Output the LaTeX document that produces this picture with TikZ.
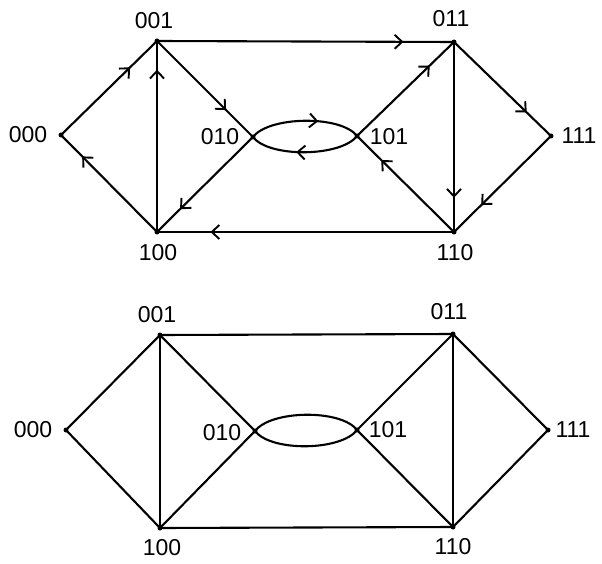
\documentclass[tikz,border=0pt]{standalone}
\usepackage{fontspec}
\setmainfont{Liberation Sans}
\usetikzlibrary{arrows.meta,decorations.markings}
\begin{document}
\begin{tikzpicture}[x=1pt,y=-1pt,line width=2.1pt,
  vtx/.style={circle,fill=black,inner sep=0pt,minimum size=5pt},
  lbl/.style={inner sep=0pt,font=\fontsize{23}{23}\selectfont},
  arr/.style={postaction={decorate,decoration={markings,
     mark=at position #1 with {\arrow[line width=1.9pt]{Straight Barb[length=7.5pt,width=14pt]}}}}}]
\useasboundingbox (0,0) rectangle (602,564);
% ---------- top (directed) ----------
\node[vtx] (a000) at (61,135) {};
\node[vtx] (a001) at (157,41) {};
\node[vtx] (a010) at (253,137) {};
\node[vtx] (a101) at (357,136) {};
\node[vtx] (a011) at (454,42) {};
\node[vtx] (a111) at (551,136) {};
\node[vtx] (a100) at (157,232) {};
\node[vtx] (a110) at (454,232) {};
\node[lbl] (la000) at (28,135) {000};
\node[lbl] (la001) at (154,21) {001};
\node[lbl] (la010) at (220,137) {010};
\node[lbl] (la100) at (158,253) {100};
\node[lbl] (la011) at (451,19) {011};
\node[lbl] (la101) at (389,137) {101};
\node[lbl] (la111) at (579,136) {111};
\node[lbl] (la110) at (455,253) {110};
\draw[arr=0.72] (a000.center) -- (a001.center);
\draw[arr=0.72] (a001.center) -- (a010.center);
\draw[arr=0.85] (a100.center) -- (a001.center);
\draw[arr=0.78] (a100.center) -- (a000.center);
\draw[arr=0.76] (a010.center) -- (a100.center);
\draw[arr=0.82] (a110.center) -- (a100.center);
\draw[arr=0.83] (a001.center) -- (a011.center);
\draw[arr=0.75] (a101.center) -- (a011.center);
\draw[arr=0.75] (a011.center) -- (a111.center);
\draw[arr=0.82] (a011.center) -- (a110.center);
\draw[arr=0.72] (a111.center) -- (a110.center);
\draw[arr=0.75] (a110.center) -- (a101.center);
\draw[arr=0.62] (a010.center) .. controls +(16,-21) and +(-16,-21) .. (a101.center);
\draw[arr=0.58] (a101.center) .. controls +(-16,21) and +(16,21) .. (a010.center);
% ---------- bottom (undirected) ----------
\node[vtx] (b000) at (66,430) {};
\node[vtx] (b001) at (160,335) {};
\node[vtx] (b010) at (255,431) {};
\node[vtx] (b101) at (357,430) {};
\node[vtx] (b011) at (453,334) {};
\node[vtx] (b111) at (548,430) {};
\node[vtx] (b100) at (160,528) {};
\node[vtx] (b110) at (453,527) {};
\node[lbl] (lb000) at (33,430) {000};
\node[lbl] (lb001) at (157,315) {001};
\node[lbl] (lb010) at (222,433) {010};
\node[lbl] (lb100) at (162,548) {100};
\node[lbl] (lb011) at (449,312) {011};
\node[lbl] (lb101) at (388,430) {101};
\node[lbl] (lb111) at (573,430) {111};
\node[lbl] (lb110) at (453,547) {110};
\draw (b000.center) -- (b001.center);
\draw (b001.center) -- (b010.center);
\draw (b100.center) -- (b001.center);
\draw (b100.center) -- (b000.center);
\draw (b010.center) -- (b100.center);
\draw (b110.center) -- (b100.center);
\draw (b001.center) -- (b011.center);
\draw (b101.center) -- (b011.center);
\draw (b011.center) -- (b111.center);
\draw (b011.center) -- (b110.center);
\draw (b111.center) -- (b110.center);
\draw (b110.center) -- (b101.center);
\draw (b010.center) .. controls +(16,-21) and +(-16,-21) .. (b101.center);
\draw (b101.center) .. controls +(-16,21) and +(16,21) .. (b010.center);
\end{tikzpicture}
\end{document}
